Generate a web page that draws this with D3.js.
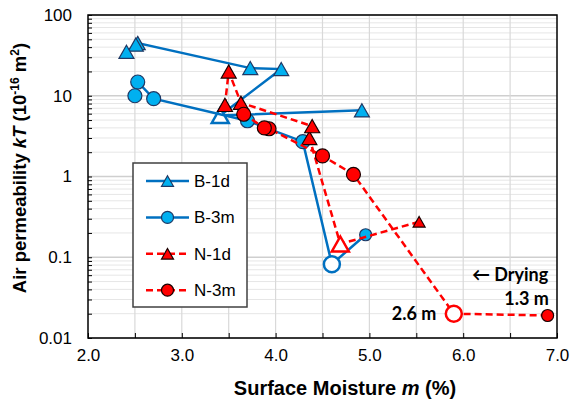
<!DOCTYPE html>
<html><head><meta charset="utf-8">
<script src="https://cdn.jsdelivr.net/npm/d3@7"></script>
<style>body{margin:0;background:#fff}svg{display:block}</style>
</head><body>
<script>
// ---- data ----
const seriesNames = ["B-1d", "B-3m", "N-1d", "N-3m"];
const b1dM = [4.92, 3.41, 4.06, 3.73, 2.53, 2.51, 2.41];
const b1dK = [6.6, 5.7, 21.4, 22, 45, 43, 35];
const b3mM = [4.96, 4.60, 4.29, 3.70, 2.70, 2.53, 2.50];
const b3mK = [0.19, 0.082, 2.7, 4.9, 9.2, 14.8, 10];
const n1dM = [5.53, 4.69, 4.36, 4.39, 3.63, 3.50, 3.46];
const n1dK = [0.275, 0.146, 3.0, 4.2, 8.2, 20, 7.7];
const n3mM = [6.90, 5.90, 4.83, 4.50, 3.93, 3.88, 3.66];
const n3mK = [0.019, 0.020, 1.06, 1.8, 3.9, 4.0, 5.9];
const xTicks = [2, 3, 4, 5, 6, 7];
const yTicks = [0.01, 0.1, 1, 10, 100];
const annotations = [
  {text: "\u2190 Drying", m: 6.50, k: 0.060},
  {text: "1.3 m", m: 6.675, k: 0.0304},
  {text: "2.6 m", m: 5.477, k: 0.0198}
];

// ---- styles ----
const W = 570, H = 402;
const L = 88, R = 557, T = 15, B = 338;
const styles = [
  {shape: "tri", line: "#0070C0", fill: "#00B0F0", stroke: "#1F3864", dash: null, smallFirst: false},
  {shape: "circ", line: "#0070C0", fill: "#00B0F0", stroke: "#1F3864", dash: null, smallFirst: true},
  {shape: "tri", line: "#FF0000", fill: "#FF0000", stroke: "#1a0000", dash: "7,4", smallFirst: true},
  {shape: "circ", line: "#FF0000", fill: "#FF0000", stroke: "#1a0000", dash: "7,4", smallFirst: true}
];
const series = [[b1dM, b1dK], [b3mM, b3mK], [n1dM, n1dK], [n3mM, n3mK]].map((p, i) => ({
  name: seriesNames[i],
  pts: p[0].map((m, j) => ({m, k: p[1][j], idx: j})),
  st: styles[i]
}));

const svg = d3.select("body").append("svg").attr("width", W).attr("height", H);
const x = d3.scaleLinear().domain([2, 7]).range([L, R]);
const y = d3.scaleLog().domain([0.01, 100]).range([B, T]);

// gridlines
const g = svg.append("g");
const minorY = [];
for (let d = 0.01; d < 100; d *= 10) for (let k = 2; k <= 9; k++) minorY.push(d * k);
g.selectAll(".ymin").data(minorY).enter().append("line")
  .attr("x1", L).attr("x2", R).attr("y1", d => y(d)).attr("y2", d => y(d))
  .attr("stroke", "#e6e6e6").attr("stroke-width", 1);
g.selectAll(".ymaj").data(yTicks).enter().append("line")
  .attr("x1", L).attr("x2", R).attr("y1", d => y(d)).attr("y2", d => y(d))
  .attr("stroke", "#cfcfcf").attr("stroke-width", 1.5);
const xGrid = d3.range(2.5, 7, 0.5);
g.selectAll(".xg").data(xGrid).enter().append("line")
  .attr("y1", T).attr("y2", B).attr("x1", d => x(d)).attr("x2", d => x(d))
  .attr("stroke", "#d9d9d9").attr("stroke-width", 1.2);

// axes
const xAxis = d3.axisBottom(x).tickValues(d3.range(2, 7.01, 0.5)).tickSize(-5).tickPadding(11)
  .tickFormat(d => xTicks.includes(d) ? d3.format(".1f")(d) : "");
const xa = svg.append("g").attr("transform", `translate(0,${B})`).call(xAxis);
const yAxis = d3.axisLeft(y).tickValues(minorY.concat(yTicks)).tickSize(-4).tickPadding(16)
  .tickFormat(d => yTicks.some(t => Math.abs(t - d) < 1e-9) ? (d >= 1 ? d3.format("d")(d) : String(d)) : "");
const ya = svg.append("g").attr("transform", `translate(${L},0)`).call(yAxis);
[xa, ya].forEach(a => {
  a.select(".domain").remove();
  a.selectAll("line").attr("stroke", "#000").attr("stroke-width", 1);
  a.selectAll("text").attr("font-family", "Liberation Sans, Arial, sans-serif").attr("font-size", 17).attr("fill", "#000");
});
// frame
svg.append("rect").attr("x", L).attr("y", T).attr("width", R - L).attr("height", B - T)
  .attr("fill", "none").attr("stroke", "#000").attr("stroke-width", 1.5);

// axis titles
svg.append("text").attr("x", 345).attr("y", 395).attr("text-anchor", "middle")
  .attr("font-family", "Liberation Sans, Arial, sans-serif").attr("font-weight", "bold").attr("font-size", 20)
  .html('Surface Moisture <tspan font-style="italic">m</tspan> (%)');
svg.append("text").attr("transform", "translate(26,168) rotate(-90)").attr("text-anchor", "middle")
  .attr("font-family", "Liberation Sans, Arial, sans-serif").attr("font-weight", "bold").attr("font-size", 18.5)
  .html('Air permeability <tspan font-style="italic">kT</tspan> (10<tspan dy="-7" font-size="12">-16</tspan><tspan dy="7"> m</tspan><tspan dy="-7" font-size="12">2</tspan><tspan dy="7">)</tspan>');

// marker path
function triPath(w) { const h = w * 0.88; return `M0,${-h / 2}L${w / 2},${h / 2}L${-w / 2},${h / 2}Z`; }
function drawMarker(sel, st, kind) {
  if (st.shape === "tri") {
    const w = {normal: 15, small: 12, hollow: 17, legend: 12}[kind];
    sel.append("path").attr("d", triPath(w));
  } else {
    const r = {normal: 7, small: 6, hollow: 8, legend: 6}[kind];
    sel.append("circle").attr("r", r);
  }
  const el = sel.select(":last-child");
  if (kind === "hollow") el.attr("fill", "#fff").attr("stroke", st.line).attr("stroke-width", 2.5);
  else el.attr("fill", st.fill).attr("stroke", st.stroke).attr("stroke-width", 1.2);
}

const line = d3.line().x(d => x(d.m)).y(d => y(d.k));
series.forEach(s => {
  const gs = svg.append("g");
  gs.append("path").attr("d", line(s.pts)).attr("fill", "none")
    .attr("stroke", s.st.line).attr("stroke-width", 2.5)
    .attr("stroke-dasharray", s.st.dash);
  s.pts.forEach(p => {
    const kind = p.idx === 1 ? "hollow" : (p.idx === 0 && s.st.smallFirst ? "small" : "normal");
    const mg = gs.append("g").attr("transform", `translate(${x(p.m)},${y(p.k)})`);
    drawMarker(mg, s.st, kind);
  });
});

// legend
const lg = svg.append("g");
lg.append("rect").attr("x", 133).attr("y", 163).attr("width", 114).attr("height", 144)
  .attr("fill", "#fff").attr("stroke", "#404040").attr("stroke-width", 1.5);
series.forEach((s, i) => {
  const cy = 181 + i * 36.4;
  lg.append("line").attr("x1", 146).attr("x2", 189).attr("y1", cy).attr("y2", cy)
    .attr("stroke", s.st.line).attr("stroke-width", 2.5).attr("stroke-dasharray", s.st.dash);
  const mg = lg.append("g").attr("transform", `translate(167.5,${cy})`);
  drawMarker(mg, s.st, "legend");
  lg.append("text").attr("x", 194).attr("y", cy + 6).text(s.name)
    .attr("font-family", "Liberation Sans, Arial, sans-serif").attr("font-size", 17).attr("fill", "#000");
});

// annotations
svg.selectAll(".ann").data(annotations).enter().append("text")
  .attr("x", d => x(d.m)).attr("y", d => y(d.k)).attr("dy", "0.35em")
  .attr("text-anchor", "middle")
  .attr("font-family", "Lato, 'Open Sans', sans-serif").attr("font-weight", "bold").attr("font-size", 18)
  .attr("fill", "#000").text(d => d.text);
</script>
</body></html>
